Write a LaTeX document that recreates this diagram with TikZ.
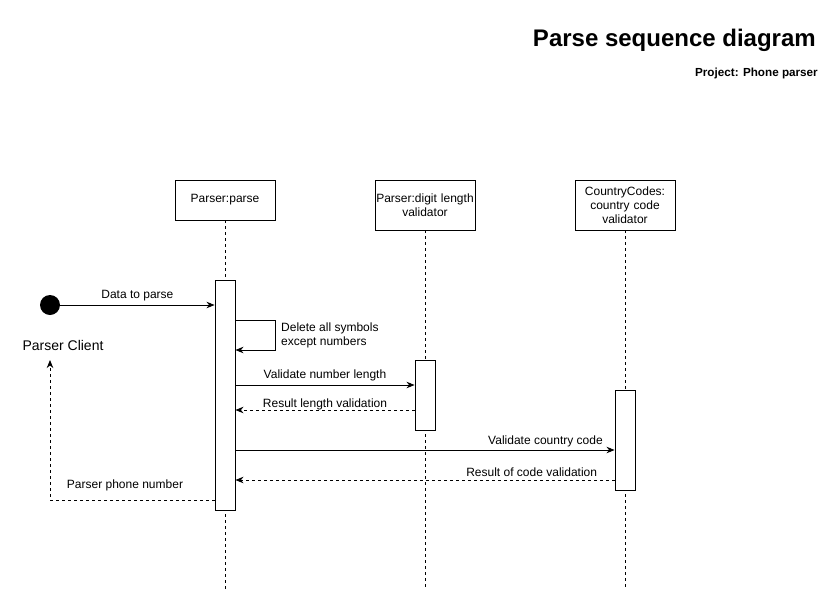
\documentclass[tikz,border=0pt]{standalone}
\usepackage{fontspec}
\setmainfont{Liberation Sans}
\usetikzlibrary{arrows.meta}
\begin{document}
\begin{tikzpicture}[x=1pt,y=-1pt,
  every node/.style={font=\fontsize{12}{14}\selectfont, inner sep=0pt},
  head/.style={draw, line width=0.9pt, minimum width=100pt, align=center, text width=98pt},
  lifeline/.style={line width=0.8pt, dash pattern=on 3pt off 3pt},
  actbar/.style={draw, line width=0.9pt, fill=white, minimum width=20pt},
  msg/.style={line width=0.9pt, -{Stealth[length=8pt, width=6.5pt, inset=2.5pt]}},
  reply/.style={msg, dash pattern=on 3pt off 3pt},
  lbl/.style={font=\fontsize{12}{14}\selectfont}]
\useasboundingbox (0,0) rectangle (838,611);

% title block
\node[anchor=east, font=\fontsize{24}{28}\bfseries] (title) at (816,40) {Parse sequence diagram};
\node[anchor=east, font=\fontsize{11.7}{14}\bfseries] (proj) at (818,73) {Project: Phone parser};

% participants
\node[head, minimum height=40pt] (pp) at (225,200) {Parser:parse};
\node[head, minimum height=50pt] (dl) at (425,205) {Parser:digit length\\validator};
\node[head, minimum height=50pt] (cc) at (625,205) {CountryCodes:\\country code\\validator};

% lifelines
\coordinate (ppend) at (225,590);
\coordinate (dlend) at (425,590);
\coordinate (ccend) at (625,590);
\draw[lifeline] (pp.south) -- (ppend);
\draw[lifeline] (dl.south) -- (dlend);
\draw[lifeline] (cc.south) -- (ccend);

% activation bars
\node[actbar, minimum height=230pt] (app) at (225,395) {};
\node[actbar, minimum height=70pt] (adl) at (425,395) {};
\node[actbar, minimum height=100pt] (acc) at (625,440) {};

% client
\node[circle, fill=black, minimum size=20pt] (client) at (50,305) {};
\node[font=\fontsize{14}{16}\selectfont] (clientlbl) at (63,345) {Parser Client};

% messages
\draw[msg] (client.east) -- (app.west |- 0,305) node[lbl, midway, above=4pt] {Data to parse};

\draw[msg] (app.east |- 0,320) -- (275,320) -- (275,350) -- (app.east |- 0,350);
\node[lbl, anchor=west, align=left] (selflbl) at (281,335.5) {Delete all symbols\\except numbers};

\draw[msg] (app.east |- 0,385) -- (adl.west |- 0,385) node[lbl, midway, above=4pt] {Validate number length};
\draw[reply] (adl.west |- 0,410) -- (app.east |- 0,410) node[lbl, midway, above=0pt] {Result length validation};

\draw[msg] (app.east |- 0,450) -- (acc.west |- 0,450) node[lbl, pos=0.97, anchor=south east, yshift=3pt] {Validate country code};
\draw[reply] (acc.west |- 0,480) -- (app.east |- 0,480) node[lbl, pos=0.045, anchor=south east, yshift=3pt] {Result of code validation};

\coordinate (ret) at (50,500);
\coordinate (rettip) at (50,360);
\draw[reply] (app.west |- 0,500) -- (ret) -- (rettip);
\node[lbl] (retlbl) at (125,485) {Parser phone number};
\end{tikzpicture}
\end{document}
